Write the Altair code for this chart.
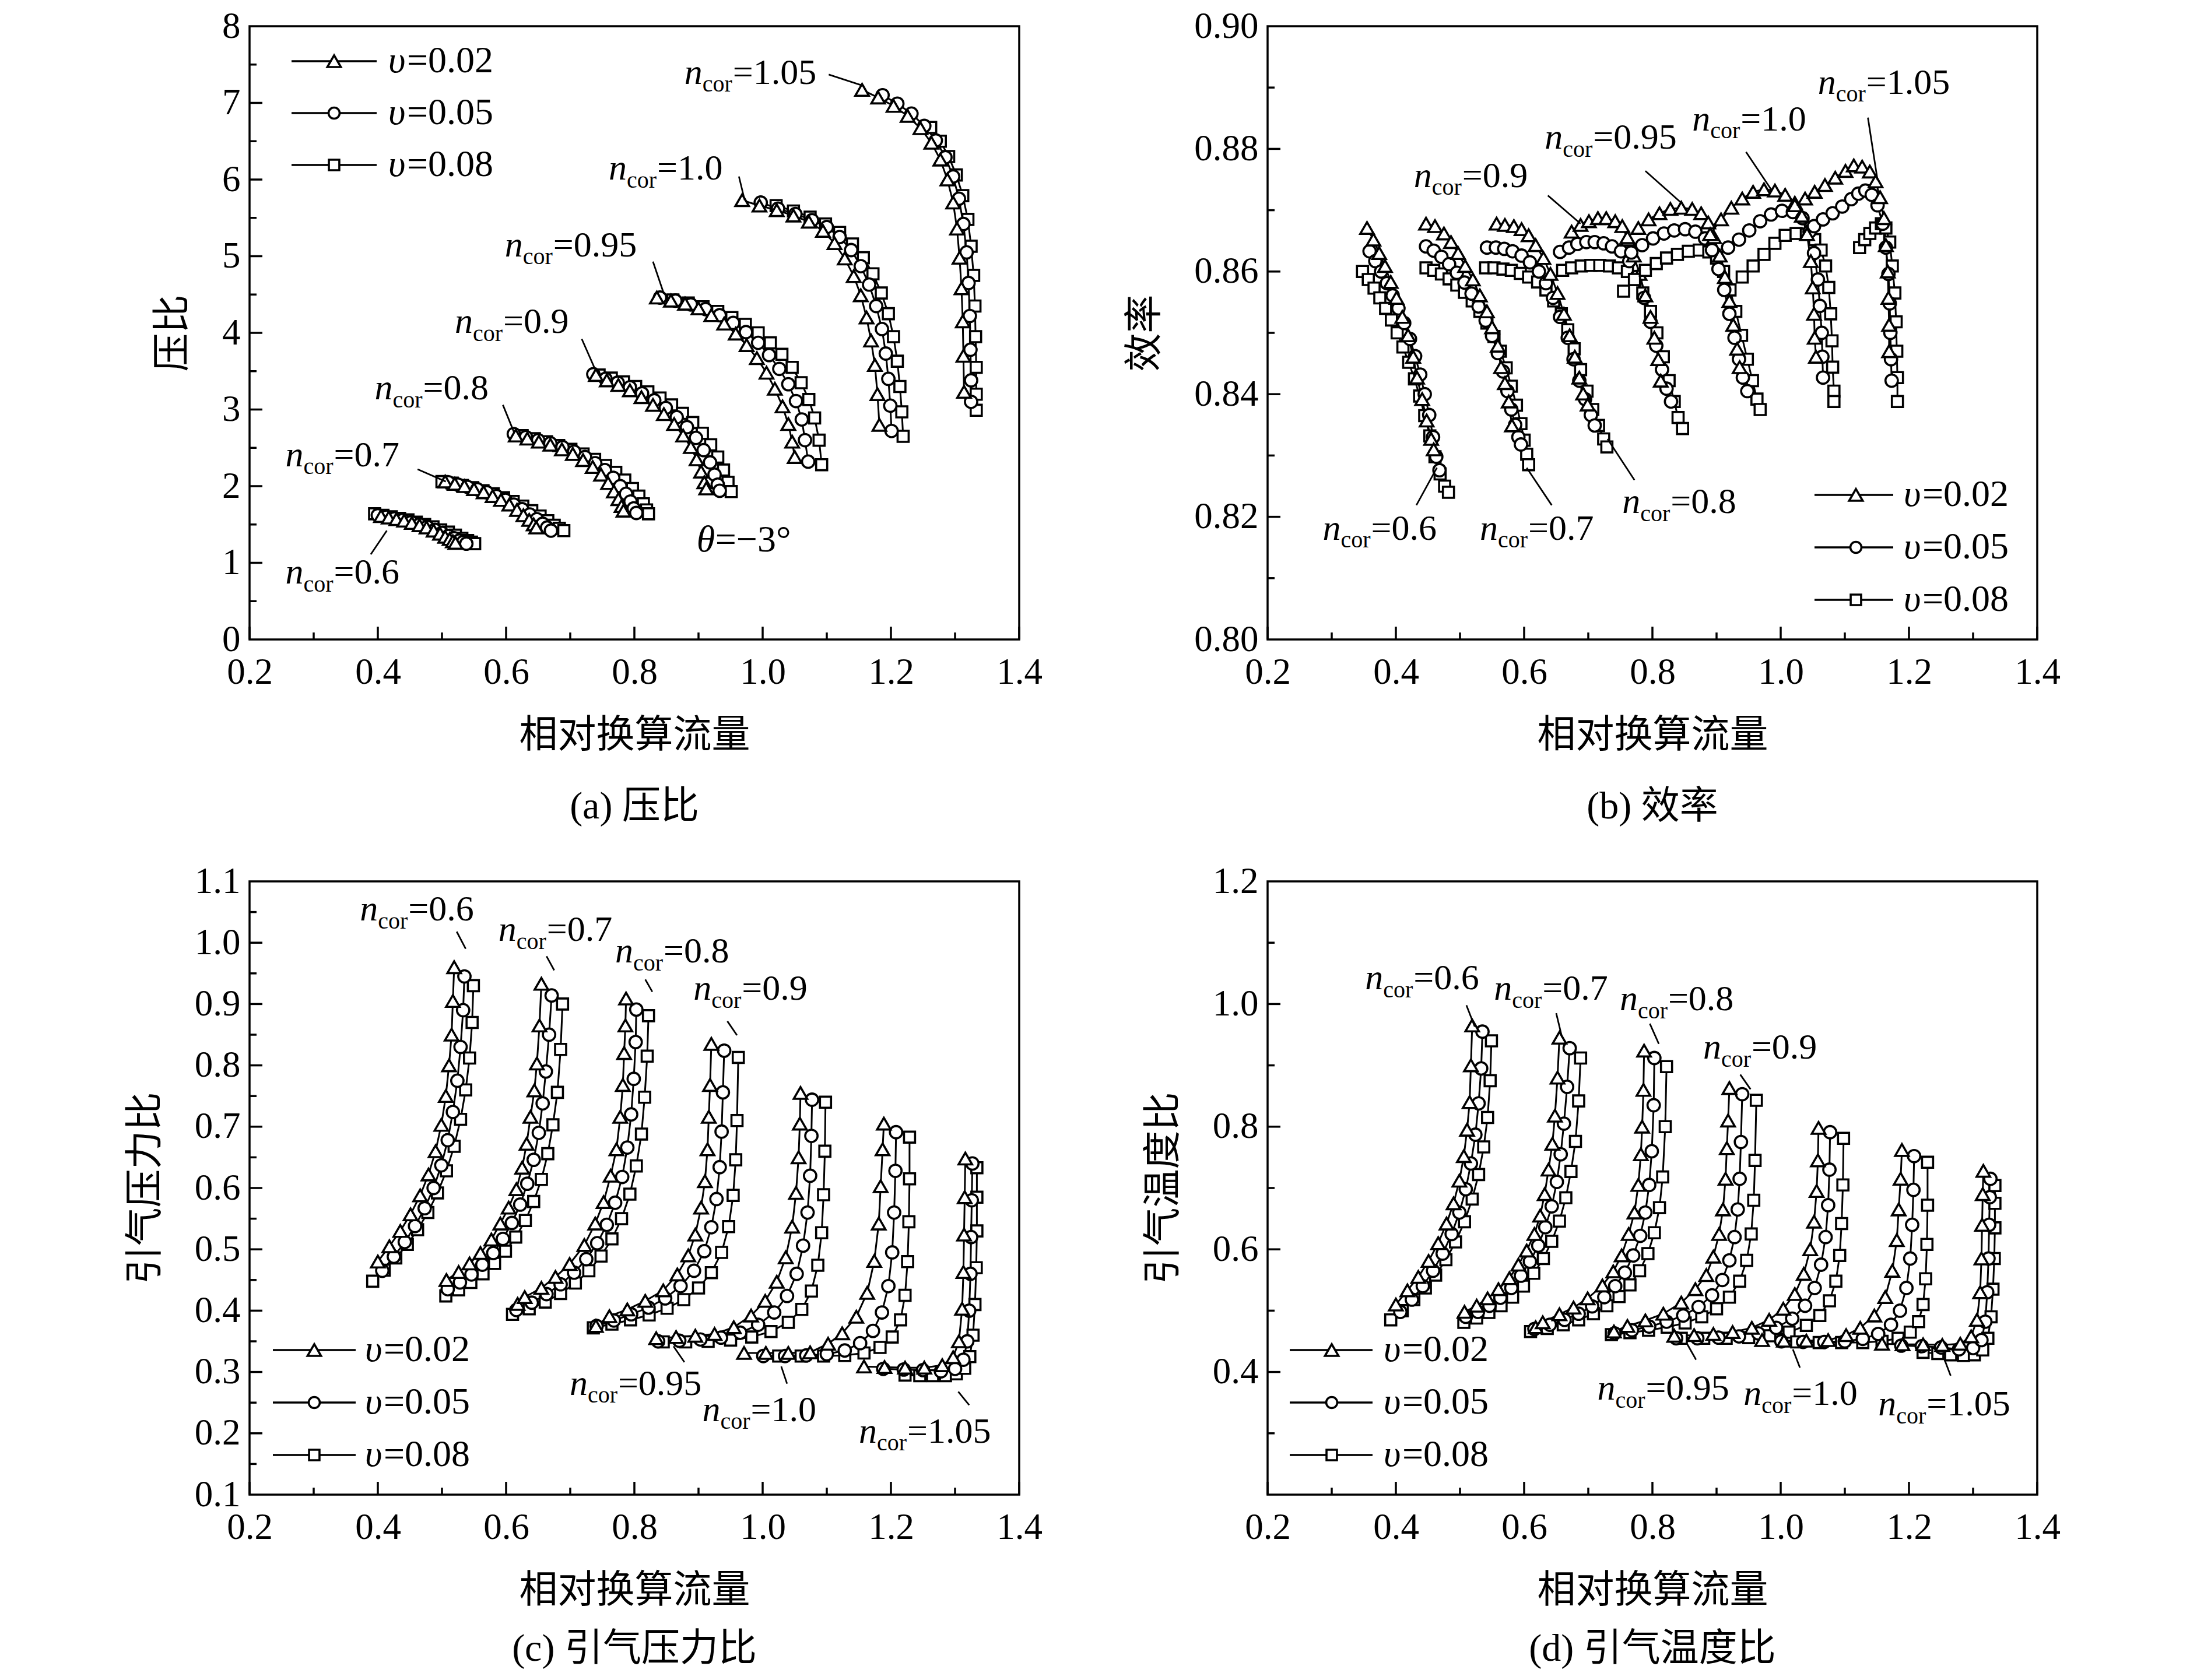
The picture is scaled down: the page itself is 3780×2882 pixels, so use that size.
import altair as alt
import pandas as pd

SERIF = "Liberation Serif"
CJK = "Liberation Serif, Noto Sans CJK SC"
SPEEDS = ["0.6", "0.7", "0.8", "0.9", "0.95", "1.0", "1.05"]
SERIES = ["υ=0.02", "υ=0.05", "υ=0.08"]
LEG_VALUES = ["=0.02", "=0.05", "=0.08"]
SHAPES = ["triangle-up", "circle", "square"]
SIZES = [540, 360, 320]
X_MAJOR = [0.2, 0.4, 0.6, 0.8, 1.0, 1.2, 1.4]
X_MINOR = [0.3, 0.5, 0.7, 0.9, 1.1, 1.3]

# ---------------- (a) pressure ratio : [υ=0.02, υ=0.05, υ=0.08]
A_X_06 = [[0.405,0.417,0.429,0.441,0.453,0.465,0.476,0.487,0.497,0.505,0.512,0.517,0.521],
          [0.400,0.413,0.426,0.439,0.452,0.465,0.477,0.489,0.500,0.510,0.519,0.527,0.533,0.538],
          [0.395,0.408,0.421,0.434,0.447,0.460,0.473,0.486,0.498,0.510,0.521,0.531,0.540,0.546,0.551]]
A_Y_06 = [[1.61,1.59,1.57,1.55,1.52,1.49,1.46,1.42,1.38,1.34,1.31,1.28,1.26],
          [1.62,1.60,1.58,1.56,1.53,1.50,1.47,1.43,1.39,1.35,1.32,1.29,1.27,1.25],
          [1.64,1.62,1.60,1.58,1.56,1.53,1.50,1.47,1.43,1.40,1.36,1.32,1.29,1.27,1.25]]
A_X_07 = [[0.505,0.520,0.535,0.550,0.565,0.579,0.592,0.605,0.617,0.627,0.636,0.643,0.647],
          [0.510,0.525,0.540,0.555,0.570,0.585,0.599,0.612,0.625,0.637,0.648,0.657,0.664,0.670],
          [0.500,0.516,0.532,0.548,0.564,0.580,0.596,0.611,0.626,0.640,0.653,0.665,0.675,0.683,0.690]]
A_Y_07 = [[2.06,2.03,2.00,1.96,1.92,1.87,1.82,1.76,1.69,1.62,1.56,1.50,1.46],
          [2.05,2.02,1.99,1.96,1.92,1.87,1.82,1.76,1.70,1.63,1.57,1.51,1.46,1.42],
          [2.06,2.04,2.01,1.98,1.94,1.90,1.85,1.80,1.74,1.68,1.61,1.55,1.49,1.45,1.42]]
A_X_08 = [[0.615,0.633,0.651,0.669,0.687,0.704,0.720,0.735,0.748,0.759,0.768,0.775,0.780,0.783],
          [0.612,0.631,0.650,0.669,0.688,0.706,0.723,0.739,0.754,0.767,0.778,0.787,0.794,0.799,0.803],
          [0.625,0.644,0.663,0.682,0.701,0.720,0.738,0.755,0.771,0.785,0.797,0.807,0.814,0.819,0.822]]
A_Y_08 = [[2.66,2.62,2.58,2.54,2.48,2.42,2.34,2.25,2.15,2.04,1.93,1.83,1.74,1.68],
          [2.68,2.64,2.60,2.56,2.51,2.45,2.38,2.30,2.21,2.11,2.00,1.90,1.80,1.71,1.65],
          [2.66,2.62,2.58,2.53,2.48,2.42,2.35,2.27,2.18,2.08,1.97,1.87,1.77,1.69,1.64]]
A_X_09 = [[0.740,0.757,0.775,0.793,0.811,0.829,0.846,0.862,0.876,0.888,0.897,0.904,0.909,0.912],
          [0.736,0.755,0.774,0.793,0.812,0.831,0.849,0.866,0.882,0.896,0.908,0.918,0.925,0.930,0.933],
          [0.745,0.764,0.783,0.802,0.821,0.840,0.858,0.875,0.891,0.906,0.919,0.930,0.939,0.946,0.951]]
A_Y_09 = [[3.45,3.38,3.32,3.25,3.16,3.06,2.94,2.81,2.66,2.51,2.35,2.19,2.05,1.97],
          [3.46,3.40,3.35,3.29,3.21,3.12,3.02,2.90,2.77,2.63,2.47,2.31,2.15,2.02,1.94],
          [3.45,3.41,3.36,3.30,3.23,3.15,3.06,2.95,2.83,2.69,2.54,2.38,2.21,2.05,1.93]]
A_X_095 = [[0.835,0.857,0.879,0.900,0.920,0.940,0.958,0.975,0.991,1.006,1.019,1.031,1.040,1.046,1.050],
           [0.840,0.864,0.888,0.911,0.933,0.954,0.974,0.993,1.010,1.026,1.040,1.052,1.061,1.066,1.071],
           [0.860,0.884,0.907,0.930,0.952,0.973,0.993,1.012,1.030,1.046,1.060,1.072,1.081,1.088,1.092]]
A_Y_095 = [[4.46,4.42,4.38,4.32,4.23,4.12,3.99,3.84,3.67,3.48,3.27,3.04,2.81,2.58,2.38],
           [4.46,4.42,4.37,4.31,4.23,4.13,4.01,3.87,3.71,3.53,3.33,3.11,2.87,2.60,2.32],
           [4.43,4.39,4.34,4.28,4.20,4.11,4.00,3.87,3.72,3.55,3.35,3.13,2.89,2.60,2.28]]
A_X_10 = [[0.968,0.995,1.022,1.048,1.072,1.094,1.112,1.128,1.142,1.153,1.162,1.169,1.175,1.179,1.182],
          [0.997,1.024,1.051,1.077,1.100,1.120,1.138,1.153,1.166,1.177,1.186,1.192,1.196,1.199,1.201],
          [1.021,1.048,1.074,1.098,1.120,1.140,1.157,1.172,1.185,1.196,1.204,1.210,1.214,1.217,1.219]]
A_Y_10 = [[5.73,5.66,5.60,5.53,5.45,5.33,5.17,4.97,4.74,4.49,4.20,3.90,3.58,3.20,2.80],
          [5.70,5.62,5.55,5.47,5.38,5.25,5.08,4.87,4.63,4.35,4.05,3.73,3.40,3.05,2.72],
          [5.66,5.59,5.51,5.42,5.31,5.16,4.98,4.77,4.52,4.25,3.95,3.63,3.30,2.97,2.65]]
A_X_105 = [[1.155,1.180,1.204,1.226,1.246,1.263,1.277,1.288,1.297,1.303,1.307,1.310,1.312,1.313,1.314],
           [1.187,1.210,1.232,1.252,1.270,1.285,1.297,1.306,1.313,1.318,1.321,1.323,1.324,1.325,1.325],
           [1.262,1.277,1.290,1.302,1.312,1.320,1.325,1.329,1.331,1.332,1.333,1.333,1.333]]
A_Y_105 = [[7.17,7.07,6.96,6.83,6.67,6.48,6.26,6.00,5.70,5.36,4.98,4.58,4.15,3.70,3.23],
           [7.10,6.99,6.86,6.70,6.51,6.29,6.04,5.75,5.42,5.05,4.65,4.22,3.78,3.38,3.10],
           [6.68,6.50,6.30,6.06,5.79,5.48,5.13,4.75,4.35,3.95,3.55,3.20,2.99]]

# ---------------- (b) efficiency
B_X_06 = [[0.355,0.365,0.374,0.383,0.392,0.401,0.410,0.419,0.427,0.433,0.441,0.448,0.455,0.459],
          [0.359,0.368,0.377,0.386,0.395,0.404,0.413,0.422,0.430,0.438,0.445,0.452,0.458,0.463,0.468],
          [0.348,0.357,0.366,0.375,0.384,0.393,0.402,0.411,0.420,0.429,0.437,0.445,0.453,0.461,0.469,0.476,0.482]]
B_Y_06 = [[0.8671,0.8652,0.8630,0.8609,0.8583,0.8557,0.8526,0.8496,0.8461,0.8427,0.8392,0.8357,0.8327,0.8310],
          [0.8633,0.8617,0.8600,0.8581,0.8561,0.8540,0.8516,0.8490,0.8462,0.8432,0.8400,0.8366,0.8330,0.8298,0.8276],
          [0.8600,0.8587,0.8573,0.8557,0.8540,0.8521,0.8500,0.8477,0.8452,0.8425,0.8397,0.8365,0.8332,0.8298,0.8270,0.8250,0.8240]]
B_X_07 = [[0.447,0.461,0.475,0.486,0.497,0.508,0.520,0.531,0.542,0.550,0.559,0.564,0.570,0.576,0.581],
          [0.447,0.459,0.471,0.483,0.495,0.507,0.518,0.529,0.540,0.550,0.559,0.567,0.574,0.580,0.586,0.591,0.595],
          [0.447,0.459,0.471,0.483,0.495,0.507,0.519,0.531,0.542,0.553,0.563,0.572,0.580,0.588,0.595,0.600,0.604,0.607]]
B_Y_07 = [[0.8678,0.8674,0.8662,0.8648,0.8630,0.8609,0.8587,0.8561,0.8535,0.8509,0.8479,0.8444,0.8418,0.8388,0.8349],
          [0.8641,0.8634,0.8624,0.8612,0.8598,0.8582,0.8564,0.8543,0.8520,0.8495,0.8467,0.8437,0.8405,0.8375,0.8350,0.8330,0.8318],
          [0.8606,0.8602,0.8596,0.8588,0.8578,0.8566,0.8552,0.8535,0.8516,0.8494,0.8470,0.8443,0.8413,0.8382,0.8352,0.8325,0.8302,0.8285]]
B_X_08 = [[0.557,0.570,0.584,0.596,0.607,0.618,0.630,0.641,0.652,0.662,0.671,0.679,0.686,0.692,0.699],
          [0.542,0.556,0.569,0.582,0.596,0.609,0.623,0.634,0.645,0.656,0.668,0.677,0.686,0.695,0.704,0.710],
          [0.540,0.553,0.567,0.580,0.594,0.607,0.621,0.634,0.646,0.658,0.668,0.678,0.688,0.698,0.707,0.716,0.724,0.729]]
B_Y_08 = [[0.8678,0.8676,0.8674,0.8669,0.8659,0.8643,0.8622,0.8596,0.8565,0.8531,0.8496,0.8461,0.8427,0.8401,0.8383],
          [0.8639,0.8639,0.8637,0.8633,0.8626,0.8615,0.8600,0.8581,0.8557,0.8526,0.8492,0.8457,0.8422,0.8392,0.8366,0.8349],
          [0.8606,0.8606,0.8604,0.8602,0.8597,0.8591,0.8583,0.8570,0.8552,0.8531,0.8505,0.8474,0.8440,0.8405,0.8375,0.8349,0.8327,0.8314]]
B_X_09 = [[0.674,0.688,0.701,0.715,0.728,0.742,0.753,0.762,0.771,0.780,0.789,0.797,0.803,0.809,0.813],
          [0.656,0.670,0.683,0.697,0.710,0.724,0.737,0.751,0.764,0.775,0.787,0.797,0.806,0.815,0.822,0.829],
          [0.660,0.674,0.689,0.704,0.718,0.733,0.747,0.761,0.773,0.785,0.797,0.807,0.817,0.826,0.834,0.840,0.847]]
B_Y_09 = [[0.8665,0.8676,0.8682,0.8687,0.8687,0.8682,0.8674,0.8652,0.8626,0.8596,0.8561,0.8526,0.8492,0.8457,0.8422],
          [0.8632,0.8639,0.8645,0.8648,0.8648,0.8646,0.8641,0.8633,0.8617,0.8591,0.8557,0.8518,0.8479,0.8440,0.8409,0.8388],
          [0.8602,0.8606,0.8609,0.8610,0.8610,0.8609,0.8606,0.8600,0.8587,0.8565,0.8535,0.8500,0.8461,0.8422,0.8388,0.8362,0.8344]]
B_X_095 = [[0.761,0.778,0.794,0.811,0.828,0.845,0.862,0.876,0.887,0.896,0.905,0.913,0.920,0.926,0.932,0.936],
           [0.767,0.784,0.801,0.818,0.834,0.851,0.867,0.882,0.893,0.903,0.912,0.920,0.928,0.935,0.941,0.948],
           [0.755,0.772,0.789,0.806,0.822,0.839,0.856,0.873,0.888,0.900,0.911,0.921,0.930,0.939,0.948,0.956,0.963,0.968]]
B_Y_095 = [[0.8656,0.8671,0.8685,0.8695,0.8702,0.8704,0.8702,0.8695,0.8680,0.8656,0.8626,0.8591,0.8552,0.8513,0.8474,0.8444],
           [0.8631,0.8643,0.8654,0.8662,0.8667,0.8669,0.8665,0.8654,0.8635,0.8604,0.8570,0.8531,0.8492,0.8457,0.8427,0.8405],
           [0.8568,0.8587,0.8602,0.8613,0.8622,0.8628,0.8633,0.8635,0.8632,0.8622,0.8600,0.8570,0.8535,0.8496,0.8457,0.8422,0.8392,0.8375]]
B_X_10 = [[0.890,0.907,0.923,0.940,0.957,0.974,0.991,1.007,1.022,1.033,1.041,1.047,1.050,1.052,1.053,1.055],
          [0.918,0.935,0.951,0.968,0.985,1.002,1.019,1.034,1.045,1.052,1.058,1.061,1.064,1.065,1.066],
          [0.940,0.957,0.974,0.991,1.007,1.024,1.040,1.053,1.063,1.070,1.075,1.078,1.080,1.081,1.083,1.083]]
B_Y_10 = [[0.8661,0.8685,0.8704,0.8719,0.8730,0.8734,0.8732,0.8725,0.8712,0.8691,0.8661,0.8617,0.8574,0.8531,0.8492,0.8461],
          [0.8639,0.8652,0.8667,0.8682,0.8693,0.8699,0.8697,0.8687,0.8665,0.8630,0.8587,0.8544,0.8500,0.8461,0.8427],
          [0.8591,0.8609,0.8628,0.8646,0.8659,0.8662,0.8661,0.8652,0.8635,0.8609,0.8574,0.8531,0.8487,0.8444,0.8405,0.8388]]
B_X_105 = [[1.022,1.038,1.053,1.069,1.085,1.101,1.114,1.127,1.139,1.148,1.155,1.161,1.164,1.167,1.168,1.169,1.169],
           [1.052,1.066,1.081,1.096,1.110,1.121,1.132,1.142,1.151,1.159,1.164,1.168,1.170,1.171,1.172,1.173],
           [1.123,1.131,1.139,1.148,1.157,1.164,1.170,1.174,1.178,1.180,1.181,1.182,1.182]]
B_Y_105 = [[0.8708,0.8719,0.8730,0.8741,0.8753,0.8764,0.8773,0.8771,0.8763,0.8747,0.8721,0.8687,0.8643,0.8600,0.8557,0.8513,0.8470],
           [0.8674,0.8685,0.8695,0.8706,0.8718,0.8727,0.8732,0.8725,0.8708,0.8678,0.8639,0.8596,0.8548,0.8500,0.8457,0.8422],
           [0.8639,0.8652,0.8662,0.8671,0.8678,0.8671,0.8648,0.8609,0.8565,0.8518,0.8470,0.8427,0.8388]]

# ---------------- (c) bleed pressure ratio and (d) bleed temperature ratio share flows
CD_X_06 = [[0.400,0.418,0.435,0.451,0.466,0.479,0.490,0.499,0.506,0.511,0.515,0.517,0.519],
           [0.407,0.425,0.442,0.458,0.473,0.487,0.499,0.509,0.517,0.524,0.529,0.533,0.535],
           [0.392,0.410,0.428,0.446,0.462,0.478,0.493,0.507,0.519,0.529,0.537,0.543,0.547,0.549]]
C_Y_06 = [[0.480,0.505,0.530,0.557,0.588,0.622,0.660,0.703,0.750,0.800,0.850,0.905,0.960],
          [0.465,0.488,0.512,0.538,0.567,0.600,0.637,0.678,0.724,0.775,0.830,0.890,0.945],
          [0.448,0.466,0.486,0.508,0.532,0.560,0.592,0.628,0.668,0.712,0.760,0.812,0.870,0.930]]
D_Y_06 = [[0.510,0.533,0.555,0.581,0.610,0.642,0.675,0.712,0.752,0.795,0.840,0.900,0.965],
          [0.498,0.518,0.540,0.565,0.593,0.625,0.660,0.698,0.740,0.787,0.838,0.895,0.955],
          [0.485,0.500,0.518,0.537,0.558,0.583,0.612,0.645,0.682,0.722,0.767,0.815,0.875,0.940]]
CD_X_07 = [[0.507,0.526,0.543,0.560,0.577,0.591,0.604,0.616,0.625,0.632,0.638,0.644,0.648,0.652,0.655],
           [0.509,0.528,0.546,0.563,0.580,0.595,0.609,0.622,0.633,0.643,0.651,0.657,0.662,0.667,0.671],
           [0.506,0.526,0.545,0.564,0.582,0.599,0.615,0.630,0.643,0.655,0.665,0.673,0.680,0.685,0.688]]
C_Y_07 = [[0.450,0.463,0.477,0.494,0.516,0.542,0.568,0.598,0.633,0.672,0.716,0.759,0.803,0.865,0.933],
          [0.435,0.446,0.459,0.475,0.494,0.517,0.543,0.573,0.607,0.646,0.690,0.738,0.790,0.850,0.914],
          [0.424,0.434,0.446,0.460,0.477,0.497,0.520,0.547,0.578,0.614,0.656,0.703,0.756,0.826,0.900]]
D_Y_07 = [[0.498,0.508,0.520,0.535,0.553,0.575,0.598,0.625,0.655,0.690,0.730,0.772,0.818,0.880,0.945],
          [0.490,0.498,0.508,0.521,0.537,0.557,0.580,0.606,0.636,0.670,0.710,0.755,0.805,0.865,0.928],
          [0.481,0.488,0.497,0.508,0.522,0.540,0.561,0.585,0.613,0.646,0.684,0.727,0.776,0.842,0.912]]
CD_X_08 = [[0.618,0.629,0.655,0.677,0.699,0.722,0.739,0.752,0.763,0.772,0.778,0.782,0.784,0.786,0.787],
           [0.616,0.640,0.663,0.685,0.706,0.725,0.742,0.757,0.770,0.781,0.789,0.795,0.799,0.802,0.803],
           [0.610,0.636,0.661,0.685,0.708,0.729,0.748,0.765,0.780,0.793,0.803,0.811,0.816,0.820,0.822]]
C_Y_08 = [[0.411,0.422,0.437,0.455,0.476,0.507,0.542,0.577,0.620,0.663,0.716,0.768,0.820,0.865,0.909],
          [0.401,0.413,0.427,0.443,0.462,0.484,0.510,0.540,0.576,0.618,0.666,0.720,0.778,0.838,0.891],
          [0.394,0.403,0.414,0.428,0.445,0.465,0.489,0.517,0.550,0.590,0.636,0.688,0.748,0.815,0.881]]
D_Y_08 = [[0.473,0.481,0.494,0.505,0.520,0.541,0.564,0.590,0.625,0.660,0.705,0.755,0.800,0.860,0.924],
          [0.470,0.477,0.485,0.495,0.507,0.522,0.540,0.562,0.590,0.622,0.660,0.705,0.760,0.835,0.912],
          [0.466,0.471,0.477,0.485,0.495,0.508,0.523,0.542,0.565,0.593,0.627,0.668,0.718,0.800,0.898]]
CD_X_09 = [[0.740,0.761,0.789,0.817,0.845,0.867,0.884,0.895,0.904,0.910,0.914,0.916,0.918,0.920],
           [0.741,0.768,0.795,0.822,0.848,0.872,0.893,0.909,0.920,0.928,0.933,0.936,0.938,0.940],
           [0.736,0.765,0.794,0.823,0.851,0.877,0.900,0.920,0.936,0.947,0.954,0.958,0.960,0.962]]
C_Y_09 = [[0.375,0.391,0.402,0.416,0.433,0.459,0.490,0.524,0.568,0.611,0.663,0.716,0.768,0.835],
          [0.375,0.384,0.394,0.405,0.420,0.440,0.465,0.497,0.536,0.582,0.634,0.692,0.756,0.824],
          [0.372,0.378,0.385,0.393,0.404,0.418,0.437,0.462,0.495,0.537,0.588,0.646,0.710,0.813]]
D_Y_09 = [[0.466,0.475,0.484,0.495,0.513,0.535,0.558,0.588,0.625,0.665,0.715,0.765,0.810,0.863],
          [0.463,0.468,0.474,0.482,0.492,0.506,0.525,0.550,0.582,0.620,0.665,0.715,0.775,0.853],
          [0.461,0.464,0.468,0.473,0.480,0.490,0.503,0.522,0.548,0.582,0.625,0.680,0.745,0.843]]
CD_X_095 = [[0.834,0.865,0.895,0.925,0.955,0.982,1.004,1.022,1.036,1.046,1.052,1.056,1.058,1.059],
            [0.837,0.870,0.903,0.935,0.965,0.993,1.018,1.038,1.053,1.063,1.070,1.074,1.076,1.077],
            [0.845,0.880,0.915,0.950,0.983,1.013,1.040,1.061,1.076,1.086,1.092,1.095,1.097,1.098]]
C_Y_095 = [[0.355,0.357,0.359,0.362,0.373,0.392,0.416,0.447,0.487,0.537,0.592,0.650,0.705,0.755],
           [0.350,0.351,0.353,0.356,0.364,0.377,0.397,0.424,0.460,0.506,0.560,0.620,0.685,0.744],
           [0.349,0.349,0.350,0.352,0.357,0.366,0.381,0.402,0.432,0.474,0.527,0.589,0.660,0.740]]
D_Y_095 = [[0.459,0.460,0.462,0.465,0.472,0.485,0.503,0.527,0.560,0.600,0.645,0.695,0.745,0.798],
           [0.455,0.455,0.456,0.458,0.463,0.472,0.487,0.508,0.537,0.575,0.620,0.672,0.730,0.791],
           [0.455,0.455,0.455,0.456,0.459,0.465,0.476,0.492,0.516,0.548,0.590,0.642,0.705,0.781]]
CD_X_10 = [[0.971,1.005,1.040,1.074,1.102,1.124,1.146,1.163,1.174,1.181,1.184,1.187,1.189],
           [1.001,1.035,1.068,1.100,1.128,1.152,1.172,1.186,1.196,1.202,1.205,1.207,1.208],
           [1.025,1.060,1.095,1.128,1.158,1.183,1.202,1.215,1.222,1.226,1.228,1.229,1.229]]
C_Y_10 = [[0.331,0.331,0.331,0.332,0.346,0.363,0.390,0.429,0.481,0.542,0.603,0.663,0.705],
          [0.326,0.326,0.327,0.329,0.335,0.347,0.367,0.397,0.440,0.495,0.560,0.628,0.691],
          [0.326,0.326,0.326,0.327,0.331,0.340,0.357,0.385,0.425,0.480,0.545,0.615,0.683]]
D_Y_10 = [[0.452,0.451,0.451,0.452,0.460,0.472,0.492,0.522,0.565,0.615,0.665,0.715,0.762],
          [0.450,0.449,0.449,0.450,0.454,0.462,0.477,0.500,0.537,0.585,0.640,0.697,0.752],
          [0.449,0.448,0.448,0.448,0.450,0.455,0.465,0.482,0.510,0.552,0.608,0.672,0.742]]
CD_X_105 = [[1.158,1.190,1.222,1.252,1.280,1.297,1.306,1.311,1.313,1.314,1.315,1.316],
            [1.188,1.220,1.250,1.278,1.300,1.313,1.319,1.322,1.324,1.325,1.326,1.327],
            [1.222,1.245,1.265,1.285,1.302,1.315,1.323,1.328,1.331,1.333,1.334,1.334,1.334]]
C_Y_105 = [[0.309,0.308,0.307,0.307,0.311,0.324,0.350,0.403,0.463,0.524,0.585,0.648],
           [0.305,0.304,0.303,0.301,0.305,0.320,0.350,0.400,0.460,0.520,0.580,0.640],
           [0.295,0.294,0.294,0.294,0.297,0.306,0.325,0.360,0.410,0.470,0.530,0.585,0.633]]
D_Y_105 = [[0.446,0.445,0.445,0.444,0.446,0.458,0.485,0.530,0.585,0.640,0.690,0.728],
           [0.443,0.442,0.440,0.437,0.439,0.452,0.482,0.530,0.585,0.640,0.685,0.715],
           [0.432,0.430,0.428,0.427,0.428,0.436,0.455,0.490,0.535,0.585,0.635,0.675,0.704]]

# ---------------- speed-line labels: (x, y of label start), text, leader (x1, y1, x2, y2)
A_ANN_X = [0.878, 0.760, 0.598, 0.520, 0.395, 0.256, 0.256]
A_ANN_Y = [7.25, 6.00, 5.00, 4.00, 3.13, 2.26, 0.73]
A_ANN_T = ["=1.05", "=1.0", "=0.95", "=0.9", "=0.8", "=0.7", "=0.6"]
A_LEAD = [(1.103, 7.37, 1.158, 7.22), (0.963, 6.04, 0.972, 5.73), (0.829, 4.93, 0.846, 4.51),
          (0.718, 3.92, 0.738, 3.54), (0.595, 3.06, 0.612, 2.71), (0.462, 2.22, 0.506, 2.06),
          (0.389, 1.11, 0.414, 1.42)]
B_ANN_X = [1.058, 0.862, 0.632, 0.428, 0.286, 0.531, 0.753]
B_ANN_Y = [0.889, 0.883, 0.880, 0.8738, 0.8163, 0.8163, 0.8206]
B_ANN_T = ["=1.05", "=1.0", "=0.95", "=0.9", "=0.6", "=0.7", "=0.8"]
B_LEAD = [(1.136, 0.8851, 1.151, 0.8749), (0.946, 0.8795, 0.985, 0.8734), (0.789, 0.8764, 0.845, 0.8712),
          (0.637, 0.8724, 0.688, 0.8678), (0.432, 0.8219, 0.464, 0.8280), (0.643, 0.8219, 0.604, 0.8280),
          (0.772, 0.8260, 0.730, 0.8327)]
C_ANN_X = [0.372, 0.588, 0.770, 0.892, 0.699, 0.906, 1.150]
C_ANN_Y = [1.036, 1.003, 0.968, 0.907, 0.263, 0.220, 0.185]
C_ANN_T = ["=0.6", "=0.7", "=0.8", "=0.9", "=0.95", "=1.0", "=1.05"]
C_LEAD = [(0.523, 1.018, 0.537, 0.990), (0.663, 0.978, 0.675, 0.955), (0.817, 0.940, 0.828, 0.920),
          (0.945, 0.872, 0.960, 0.849), (0.878, 0.316, 0.861, 0.342), (1.038, 0.281, 1.029, 0.309),
          (1.322, 0.246, 1.305, 0.268)]
D_ANN_X = [0.352, 0.553, 0.749, 0.879, 0.714, 0.942, 1.152]
D_ANN_Y = [1.024, 1.007, 0.990, 0.911, 0.355, 0.346, 0.329]
D_ANN_T = ["=0.6", "=0.7", "=0.8", "=0.9", "=0.95", "=1.0", "=1.05"]
D_LEAD = [(0.510, 0.998, 0.523, 0.963), (0.650, 0.985, 0.659, 0.946), (0.796, 0.968, 0.810, 0.935),
          (0.937, 0.885, 0.953, 0.861), (0.868, 0.420, 0.854, 0.446), (1.030, 0.407, 1.019, 0.437),
          (1.265, 0.394, 1.254, 0.424)]

W, H = 1320, 1052
F_TICK, F_TITLE, F_ANN, F_SUB, F_LEG = 63, 66, 62, 40, 64
ONE = pd.DataFrame({"a": [0]})


def build_df(xs, ys):
    rows = []
    for sp, x3, y3 in zip(SPEEDS, xs, ys):
        for k in (2, 1, 0):
            for i, (xv, yv) in enumerate(zip(x3[k], y3[k])):
                rows.append({"x": xv, "y": yv, "s": SERIES[k], "curve": sp + "_" + str(k), "i": i})
    return pd.DataFrame(rows)


def panel(df, ydom, ylabels, ymaj, ymin, yfmt, ytitle, ann, lead, leg, caption, cap_offset, theta=None):
    xs = alt.Scale(domain=[0.2, 1.4], nice=False, zero=False)
    ys = alt.Scale(domain=ydom, nice=False, zero=False)
    common = dict(ticks=False, tickSize=0, domain=False, grid=False, labelFont=SERIF,
                  labelFontSize=F_TICK, labelColor="black", labelFlush=False,
                  labelOverlap=False, titleFont=CJK, titleFontSize=F_TITLE,
                  titleFontWeight="normal", titleColor="black")
    ax = alt.Axis(title="相对换算流量", values=X_MAJOR, format=".1f", labelPadding=25,
                  titlePadding=44, **common)
    ay = alt.Axis(title=ytitle, values=ylabels, format=yfmt, labelPadding=16,
                  titlePadding=50, **common)

    def X(f):
        return alt.X(f, type="quantitative", scale=xs, axis=ax)

    def Y(f):
        return alt.Y(f, type="quantitative", scale=ys, axis=ay)

    layers = []
    base = alt.Chart(df)
    layers.append(base.mark_line(color="black", strokeWidth=3).encode(
        x=X("x"), y=Y("y"), detail="curve:N", order="i:Q"))
    layers.append(base.mark_point(filled=True, fill="white", stroke="black", strokeWidth=3.6,
                                  opacity=1, fillOpacity=1).encode(
        x=X("x"), y=Y("y"),
        shape=alt.Shape("s:N", scale=alt.Scale(domain=SERIES, range=SHAPES), legend=None),
        size=alt.Size("s:N", scale=alt.Scale(domain=SERIES, range=SIZES), legend=None)))
    # inward ticks
    for vals, ln in ((X_MAJOR, 22), (X_MINOR, 12)):
        layers.append(alt.Chart(pd.DataFrame({"v": vals})).mark_rule(color="black", strokeWidth=3.5).encode(
            x=X("v"), y=alt.value(H), y2=alt.value(H - ln)))
    for vals, ln in ((ymaj, 22), (ymin, 12)):
        layers.append(alt.Chart(pd.DataFrame({"v": vals})).mark_rule(color="black", strokeWidth=3.5).encode(
            y=Y("v"), x=alt.value(0), x2=alt.value(ln)))
    # speed labels  n_cor=...
    ax_, ay_, at_ = ann
    adf = pd.DataFrame({"x": ax_, "y": ay_, "t": at_})
    tx = dict(font=SERIF, align="left", baseline="alphabetic", color="black")
    layers.append(alt.Chart(adf).mark_text(fontSize=F_ANN, fontStyle="italic", **tx).encode(
        x=X("x"), y=Y("y"), text=alt.value("n")))
    layers.append(alt.Chart(adf).mark_text(fontSize=F_SUB, dx=F_ANN * 0.5, dy=F_ANN * 0.22, **tx).encode(
        x=X("x"), y=Y("y"), text=alt.value("cor")))
    layers.append(alt.Chart(adf).mark_text(fontSize=F_ANN, dx=F_ANN * 0.5 + F_SUB * 1.3, **tx).encode(
        x=X("x"), y=Y("y"), text=alt.Text("t:N")))
    ldf = pd.DataFrame(lead, columns=["x1", "y1", "x2", "y2"])
    layers.append(alt.Chart(ldf).mark_rule(color="black", strokeWidth=2.8).encode(
        x=X("x1"), y=Y("y1"), x2=alt.X2("x2"), y2=alt.Y2("y2")))
    if theta is not None:
        tdf = pd.DataFrame({"x": [theta[0]], "y": [theta[1]]})
        layers.append(alt.Chart(tdf).mark_text(fontSize=F_LEG, fontStyle="italic", **tx).encode(
            x=X("x"), y=Y("y"), text=alt.value("θ")))
        layers.append(alt.Chart(tdf).mark_text(fontSize=F_LEG, dx=F_LEG * 0.5, **tx).encode(
            x=X("x"), y=Y("y"), text=alt.value("=−3°")))
    # legend drawn inside the frame
    lx0, lx1, lm, lt, rows = leg
    for k in range(3):
        layers.append(alt.Chart(ONE).mark_rule(color="black", strokeWidth=3.5).encode(
            x=alt.value(lx0), x2=alt.value(lx1), y=alt.value(rows[k])))
        layers.append(alt.Chart(ONE).mark_point(filled=True, fill="white", stroke="black", strokeWidth=3.6,
                                                opacity=1, shape=SHAPES[k], size=SIZES[k]).encode(
            x=alt.value(lm), y=alt.value(rows[k])))
        layers.append(alt.Chart(ONE).mark_text(font=SERIF, fontSize=F_LEG, fontStyle="italic", align="left",
                                               baseline="middle", color="black").encode(
            x=alt.value(lt), y=alt.value(rows[k]), text=alt.value("υ")))
        layers.append(alt.Chart(ONE).mark_text(font=SERIF, fontSize=F_LEG, align="left", baseline="middle",
                                               color="black", dx=F_LEG * 0.5).encode(
            x=alt.value(lt), y=alt.value(rows[k]), text=alt.value(LEG_VALUES[k])))
    return alt.layer(*layers).properties(
        width=W, height=H,
        title=alt.TitleParams(text=caption, orient="bottom", font=CJK, fontSize=F_TITLE,
                              fontWeight="normal", color="black", offset=cap_offset, anchor="middle"))


A_X = [A_X_06, A_X_07, A_X_08, A_X_09, A_X_095, A_X_10, A_X_105]
A_Y = [A_Y_06, A_Y_07, A_Y_08, A_Y_09, A_Y_095, A_Y_10, A_Y_105]
B_X = [B_X_06, B_X_07, B_X_08, B_X_09, B_X_095, B_X_10, B_X_105]
B_Y = [B_Y_06, B_Y_07, B_Y_08, B_Y_09, B_Y_095, B_Y_10, B_Y_105]
CD_X = [CD_X_06, CD_X_07, CD_X_08, CD_X_09, CD_X_095, CD_X_10, CD_X_105]
C_Y = [C_Y_06, C_Y_07, C_Y_08, C_Y_09, C_Y_095, C_Y_10, C_Y_105]
D_Y = [D_Y_06, D_Y_07, D_Y_08, D_Y_09, D_Y_095, D_Y_10, D_Y_105]

LEG_BOTTOM = [H - 248, H - 158, H - 68]

pa = panel(build_df(A_X, A_Y), [0, 8], [0, 1, 2, 3, 4, 5, 6, 7, 8], [1, 2, 3, 4, 5, 6, 7],
           [0.5, 1.5, 2.5, 3.5, 4.5, 5.5, 6.5, 7.5], "d", "压比",
           (A_ANN_X, A_ANN_Y, A_ANN_T), A_LEAD, (72, 218, 145, 238, [60, 149, 238]),
           "(a) 压比", 58, theta=(0.897, 1.15))
pb = panel(build_df(B_X, B_Y), [0.80, 0.90], [0.80, 0.82, 0.84, 0.86, 0.88, 0.90],
           [0.82, 0.84, 0.86, 0.88], [0.81, 0.83, 0.85, 0.87, 0.89], ".2f", "效率",
           (B_ANN_X, B_ANN_Y, B_ANN_T), B_LEAD, (938, 1073, 1009, 1091, LEG_BOTTOM),
           "(b) 效率", 58)
pc = panel(build_df(CD_X, C_Y), [0.1, 1.1],
           [0.1, 0.2, 0.3, 0.4, 0.5, 0.6, 0.7, 0.8, 0.9, 1.0, 1.1],
           [0.2, 0.3, 0.4, 0.5, 0.6, 0.7, 0.8, 0.9, 1.0],
           [0.15, 0.25, 0.35, 0.45, 0.55, 0.65, 0.75, 0.85, 0.95, 1.05], ".1f", "引气压力比",
           (C_ANN_X, C_ANN_Y, C_ANN_T), C_LEAD, (40, 182, 111, 198, LEG_BOTTOM),
           "(c) 引气压力比", 36)
pd_ = panel(build_df(CD_X, D_Y), [0.2, 1.2], [0.4, 0.6, 0.8, 1.0, 1.2],
            [0.4, 0.6, 0.8, 1.0], [0.3, 0.5, 0.7, 0.9, 1.1], ".1f", "引气温度比",
            (D_ANN_X, D_ANN_Y, D_ANN_T), D_LEAD, (38, 180, 110, 199, LEG_BOTTOM),
            "(d) 引气温度比", 36)

chart = alt.concat(pa, pb, pc, pd_, columns=2, spacing={"row": 60, "column": 139}).properties(
    padding={"left": 206, "top": 4, "right": 5, "bottom": 0}
).configure(background="white").configure_view(stroke="black", strokeWidth=3.5)

chart.save("out.html", embed_options={"renderer": "svg", "actions": False})
